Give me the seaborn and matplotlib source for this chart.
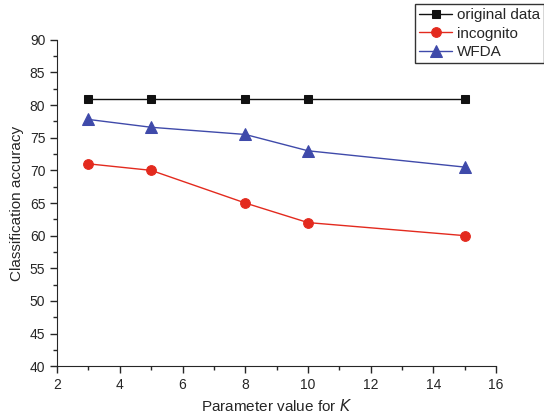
import numpy as np
import pandas as pd
import seaborn as sns
import matplotlib.pyplot as plt
from matplotlib.ticker import MultipleLocator

# Data
k_values = [3, 5, 8, 10, 15]
original_data = [81, 81, 81, 81, 81]
incognito = [71, 70, 65, 62, 60]
wfda = [77.8, 76.6, 75.5, 73, 70.5]

series_names = ['original data', 'incognito', 'WFDA']
df = pd.DataFrame({
    'K': k_values * 3,
    'acc': original_data + incognito + wfda,
    'method': np.repeat(series_names, len(k_values)),
})

sns.set_style('ticks')
plt.rcParams['font.family'] = ['Liberation Sans', 'DejaVu Sans']

fig = plt.figure(figsize=(5.44, 4.19), dpi=100)
ax = fig.add_axes([0.105, 0.126, 0.807, 0.779])

palette = {'original data': '#111111', 'incognito': '#e32a1e', 'WFDA': '#3f4aaa'}
markers = {'original data': 's', 'incognito': 'o', 'WFDA': '^'}
sizes = {'original data': 6, 'incognito': 7, 'WFDA': 8}

for name in series_names:
    sub = df[df['method'] == name]
    sns.lineplot(data=sub, x='K', y='acc', ax=ax, color=palette[name],
                 marker=markers[name], markersize=sizes[name],
                 markeredgecolor=palette[name], linewidth=1, label=name)

ax.set_xlim(2, 16)
ax.set_ylim(40, 90)
ax.xaxis.set_major_locator(MultipleLocator(2))
ax.xaxis.set_minor_locator(MultipleLocator(1))
ax.yaxis.set_major_locator(MultipleLocator(5))
ax.yaxis.set_minor_locator(MultipleLocator(2.5))
ax.tick_params(which='major', length=5, width=1, labelsize=10, direction='out')
ax.tick_params(which='minor', length=3, width=1, direction='out')
sns.despine(ax=ax)

ax.set_xlabel('Parameter value for $\\mathit{K}$', fontsize=11)
ax.set_ylabel('Classification accuracy', fontsize=11)

handles, labels = ax.get_legend_handles_labels()
ax.get_legend().remove()
fig.legend(handles, labels, loc='upper right', bbox_to_anchor=(1.0, 0.99),
           frameon=True, fancybox=False, edgecolor='black', fontsize=11,
           borderpad=0.25, labelspacing=0.3, handlelength=2.2, handletextpad=0.3,
           borderaxespad=0)

fig.savefig('out.png', dpi=100)
